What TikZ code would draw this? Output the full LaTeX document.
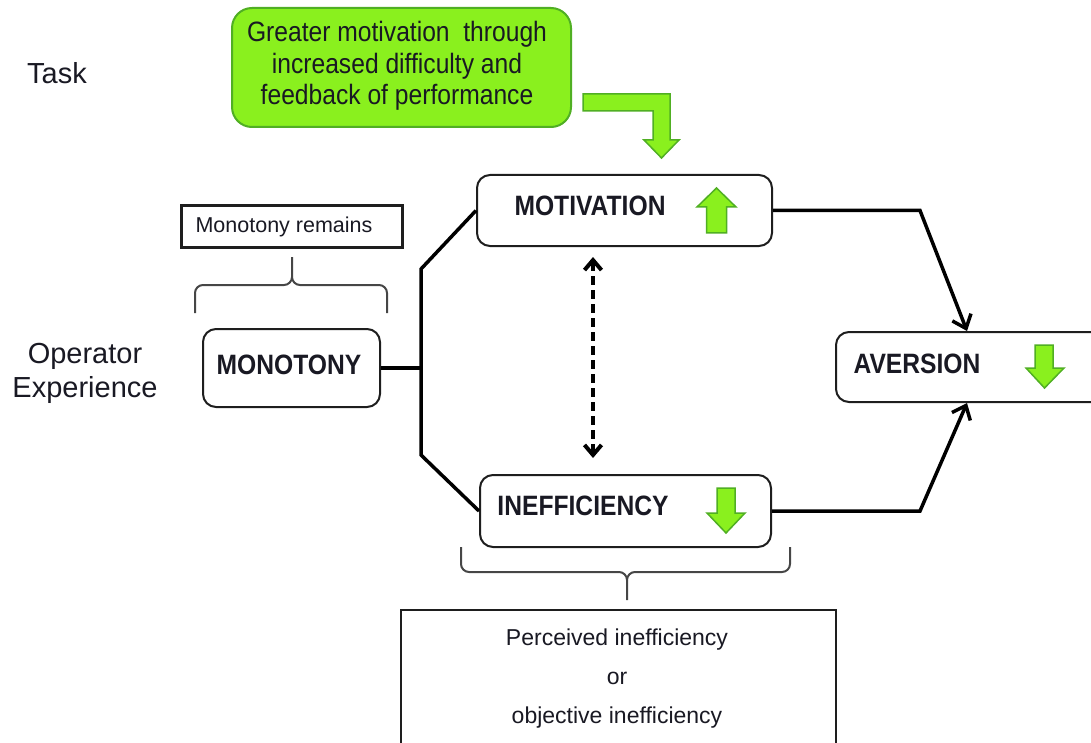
\documentclass[tikz,border=0pt]{standalone}
\usepackage{fontspec}
\setmainfont{Liberation Sans}
\newfontfamily\narrowfont[FakeStretch=0.88]{Liberation Sans}
\usetikzlibrary{arrows.meta}

\definecolor{limefill}{RGB}{138,240,30}
\definecolor{limeline}{RGB}{80,175,35}
\definecolor{inkdark}{RGB}{25,25,35}
\definecolor{boxline}{RGB}{30,30,30}
\definecolor{bracegray}{RGB}{70,70,70}

\tikzset{
  roundbox/.style={draw=boxline, line width=2pt, rounded corners=13pt, fill=white, inner sep=0pt},
  plainbox/.style={draw=boxline, line width=2pt, fill=white, inner sep=0pt},
  taskbox/.style={draw=limeline, line width=2pt, fill=limefill, rounded corners=20pt, inner sep=0pt},
  keyword/.style={font=\narrowfont\bfseries\fontsize{28}{32}\selectfont, text=inkdark, anchor=base, inner sep=0pt},
  sidelabel/.style={font=\fontsize{29}{34}\selectfont, text=inkdark, anchor=base, align=center, inner sep=0pt},
  tasktext/.style={font=\narrowfont\fontsize{28}{31.5}\selectfont, text=inkdark, anchor=base, align=center, inner sep=0pt},
  smalltext/.style={font=\fontsize{21.5}{26}\selectfont, text=inkdark, anchor=base, inner sep=0pt},
  notetext/.style={font=\fontsize{23}{39}\selectfont, text=inkdark, anchor=base, align=center, inner sep=0pt},
  link/.style={line width=3.5pt, draw=black, line join=miter},
  feed/.style={link, -{Straight Barb[length=12pt,width=20pt]}},
  mutual/.style={line width=4pt, draw=black, dash pattern=on 9pt off 5pt,
    {Straight Barb[length=10pt,width=17pt]}-{Straight Barb[length=10pt,width=17pt]}},
  brace/.style={draw=bracegray, line width=2pt},
  greenarrow/.style={fill=limefill, draw=limeline, line width=1.5pt, line join=miter},
}

\begin{document}
\begin{tikzpicture}[x=1pt,y=-1pt]
\useasboundingbox (0,0) rectangle (1091,743);
\clip (0,0) rectangle (1091,743);

% row labels (multi-line nodes are placed by their last baseline)
\node[sidelabel] (tasklbl) at (57,84) {Task};
\node[sidelabel] (oplbl) at (85,397) {Operator\\Experience};

% task intervention box and its bent arrow
\node[taskbox, minimum width=339pt, minimum height=119pt] (task) at (401.5,67.5) {};
\node[tasktext] (tasktxt) at (397,105) {Greater motivation\ \ through\\increased difficulty and\\feedback of performance};
\path[greenarrow] (583,94) -- (670,94) -- (670,140) -- (679,140) -- (661.5,158)
  -- (644,140) -- (653,140) -- (653,111) -- (583,111) -- cycle;

% main boxes
\node[roundbox, minimum width=295pt, minimum height=71pt] (mot) at (624.5,210.5) {};
\node[roundbox, minimum width=291pt, minimum height=72pt] (ineff) at (625.5,511) {};
\node[roundbox, minimum width=270pt, minimum height=70pt] (av) at (971,367) {};
\node[roundbox, minimum width=177pt, minimum height=78pt] (mono) at (291.5,368) {};
\node[plainbox, line width=3pt, minimum width=221pt, minimum height=41pt] (remain) at (291.5,226.5) {};
\node[plainbox, minimum width=435pt, minimum height=160pt] (cause) at (618.5,690) {};

% box texts
\node[keyword] (motxt) at (590,216) {MOTIVATION};
\node[keyword] (inefftxt) at (583,515) {INEFFICIENCY};
\node[keyword] (avtxt) at (917,373) {AVERSION};
\node[keyword] (monotxt) at (289,374) {MONOTONY};
\node[smalltext] (remaintxt) at (284,233) {Monotony remains};
\node[notetext] (causetxt) at (617,723) {Perceived inefficiency\\or\\objective inefficiency};

% trend arrows
\path[greenarrow] (706.5,233) -- (726.5,233) -- (726.5,207) -- (736,207) -- (716.5,188)
  -- (697,207) -- (706.5,207) -- cycle;
\path[greenarrow] (717,488) -- (735,488) -- (735,513) -- (745,513) -- (726,533)
  -- (707,513) -- (717,513) -- cycle;
\path[greenarrow] (1035,345) -- (1053,345) -- (1053,368) -- (1064,368) -- (1044.5,388)
  -- (1026,368) -- (1035,368) -- cycle;

% branching from monotony
\coordinate (jm) at (421,368);
\coordinate (jt) at (421,269);
\coordinate (jb) at (421,455);
\draw[link] (mono.east) -- (jm);
\draw[link] (mot.west) -- (jt) -- (jb) -- (ineff.west);

% paths into aversion
\coordinate (c1) at (920,210.5);
\coordinate (c2) at (920,511);
\draw[feed] (mot.east) -- (c1) -- (av.north -| 967,0);
\draw[feed] (ineff.east) -- (c2) -- (av.south -| 967,0);

% mutual influence
\coordinate (dtop) at (593,257);
\coordinate (dbot) at (593,458);
\draw[mutual] (dtop) -- (dbot);

% brace above monotony
\draw[brace] (195,313) -- (195,293) to[out=90,in=180] (203,285) -- (284,285)
  to[out=0,in=-90] (292,277) -- (292,257);
\draw[brace] (292,277) to[out=-90,in=180] (300,285) -- (379,285)
  to[out=0,in=90] (387,293) -- (387,313);

% brace below inefficiency
\draw[brace] (461,547) -- (461,564) to[out=-90,in=180] (469,572) -- (619,572)
  to[out=0,in=90] (627,580) -- (627,600);
\draw[brace] (627,580) to[out=90,in=180] (635,572) -- (782,572)
  to[out=0,in=-90] (790,564) -- (790,547);
\end{tikzpicture}
\end{document}
